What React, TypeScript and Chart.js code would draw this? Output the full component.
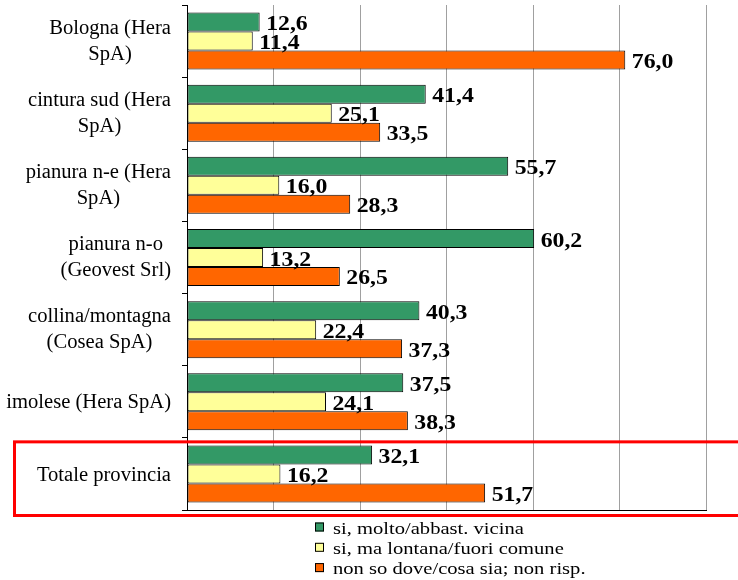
import React, { useEffect, useRef } from "react";
import { Chart, registerables } from "chart.js";

Chart.register(...registerables);

const categories: string[][] = [
  ["Bologna (Hera", "SpA)"],
  ["cintura sud (Hera", "SpA)"],
  ["pianura n-e (Hera", "SpA)"],
  ["pianura n-o", "(Geovest Srl)"],
  ["collina/montagna", "(Cosea SpA)"],
  ["imolese (Hera SpA)"],
  ["Totale provincia"],
];

const seriesNames = [
  "si, molto/abbast. vicina",
  "si, ma lontana/fuori comune",
  "non so dove/cosa sia; non risp.",
];

const vicina = [12.6, 41.4, 55.7, 60.2, 40.3, 37.5, 32.1];
const lontana = [11.4, 25.1, 16.0, 13.2, 22.4, 24.1, 16.2];
const nonSo = [76.0, 33.5, 28.3, 26.5, 37.3, 38.3, 51.7];

const colors = ["#339966", "#FFFF99", "#FF6600"];

const X_MIN = 0;
const X_MAX = 90;
const X_STEP = 15;

const SERIF = "'Liberation Serif', 'Times New Roman', serif";

function drawStretched(
  ctx: CanvasRenderingContext2D,
  text: string,
  x: number,
  y: number,
  align: CanvasTextAlign,
  sx: number
) {
  ctx.save();
  ctx.translate(x, y);
  ctx.scale(sx, 1);
  ctx.textAlign = align;
  ctx.fillText(text, 0, 0);
  ctx.restore();
}

const decorPlugin = {
  id: "decor",
  afterDatasetsDraw(chart: any) {
    const ctx: CanvasRenderingContext2D = chart.ctx;
    // value labels
    ctx.save();
    ctx.fillStyle = "#000";
    ctx.font = `bold 22px ${SERIF}`;
    ctx.textBaseline = "alphabetic";
    chart.data.datasets.forEach((ds: any, di: number) => {
      const meta = chart.getDatasetMeta(di);
      meta.data.forEach((bar: any, i: number) => {
        const v = ds.data[i] as number;
        const txt = v.toFixed(1).replace(".", ",");
        drawStretched(ctx, txt, bar.x + 6.5, bar.y + 8, "left", 1.08);
      });
    });
    ctx.restore();
  },
  afterDraw(chart: any) {
    const ctx: CanvasRenderingContext2D = chart.ctx;
    const yScale = chart.scales.y;
    const area = chart.chartArea;

    // category labels
    ctx.save();
    ctx.fillStyle = "#000";
    ctx.font = `20px ${SERIF}`;
    ctx.textBaseline = "alphabetic";
    const sxCat = 1.03;
    const rightEdge = area.left - 16;
    categories.forEach((lines, i) => {
      const cy = yScale.getPixelForValue(i);
      const widths = lines.map((l) => ctx.measureText(l).width * sxCat);
      const block = Math.max(...widths);
      const cx = rightEdge - block / 2;
      const lh = 26;
      const y0 = cy + 6.7 - ((lines.length - 1) * lh) / 2 - (lines.length > 1 ? 1 : 0);
      lines.forEach((l, k) => drawStretched(ctx, l, cx, y0 + k * lh, "center", sxCat));
    });
    ctx.restore();

    // legend
    ctx.save();
    ctx.font = `17px ${SERIF}`;
    ctx.textBaseline = "alphabetic";
    const lx = 315;
    const ly = 527;
    const lstep = 20.3;
    seriesNames.forEach((name, i) => {
      const y = ly + i * lstep;
      ctx.fillStyle = colors[i];
      ctx.fillRect(lx, y - 4.5, 9, 9);
      ctx.strokeStyle = "#000";
      ctx.lineWidth = 1;
      ctx.strokeRect(lx + 0.5, y - 4.5 + 0.5, 8, 8);
      ctx.fillStyle = "#000";
      drawStretched(ctx, name, lx + 18, y + 6.5, "left", 1.21);
    });
    ctx.restore();

    // red highlight box around the last category
    const last = categories.length - 1;
    const half =
      (yScale.getPixelForValue(last) - yScale.getPixelForValue(last - 1)) / 2;
    const top = yScale.getPixelForValue(last) - half + 4;
    const bottom = area.bottom + 5.5;
    ctx.save();
    ctx.strokeStyle = "#FF0000";
    ctx.lineWidth = 3;
    ctx.strokeRect(14.5, top, chart.width + 20, bottom - top);
    ctx.restore();
  },
};

export default function App() {
  const ref = useRef<HTMLCanvasElement | null>(null);

  useEffect(() => {
    if (!ref.current) return;
    const chart = new Chart(ref.current, {
      type: "bar",
      data: {
        labels: categories.map((c) => c.join(" ")),
        datasets: [vicina, lontana, nonSo].map((d, i) => ({
          label: seriesNames[i],
          data: d,
          backgroundColor: colors[i],
          borderColor: "#000",
          borderWidth: 1,
          borderSkipped: false,
          categoryPercentage: 0.79,
          barPercentage: 1.0,
        })),
      },
      options: {
        indexAxis: "y",
        animation: false,
        responsive: false,
        events: [],
        layout: { padding: { left: 187, right: 32, top: 5, bottom: 70 } },
        plugins: {
          legend: { display: false },
          tooltip: { enabled: false },
          title: { display: false },
        },
        scales: {
          x: {
            min: X_MIN,
            max: X_MAX,
            ticks: { display: false, stepSize: X_STEP },
            grid: {
              drawTicks: false,
              color: (c: any) =>
                c.tick && c.tick.value === X_MIN ? "rgba(0,0,0,0)" : "#a0a0a0",
              lineWidth: 1,
            },
            border: { display: true, color: "#000", width: 1 },
            afterFit: (s: any) => {
              s.height = 0;
            },
          },
          y: {
            ticks: { display: false },
            grid: {
              drawOnChartArea: false,
              drawTicks: true,
              tickLength: 5,
              color: "#000",
              offset: true,
            },
            border: { display: true, color: "#000", width: 1 },
            afterFit: (s: any) => {
              s.width = 0;
            },
          },
        },
      },
      plugins: [decorPlugin],
    } as any);
    return () => chart.destroy();
  }, []);

  return (
    <div
      style={{
        position: "fixed",
        left: 0,
        top: 0,
        width: 738,
        height: 580,
        background: "#fff",
      }}
    >
      <canvas ref={ref} width={738} height={580} style={{ display: "block" }} />
    </div>
  );
}
